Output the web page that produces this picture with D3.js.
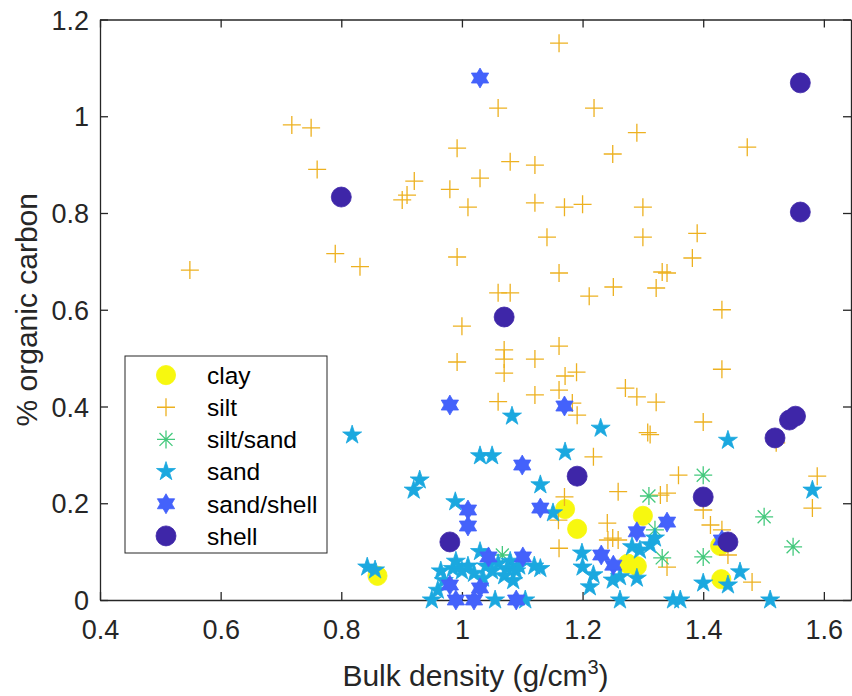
<!DOCTYPE html>
<html>
<head>
<meta charset="utf-8">
<script src="https://cdn.jsdelivr.net/npm/d3@7"></script>
<style>
  body { margin: 0; background: #fff; }
  svg { display: block; font-family: "Liberation Sans", Arial, sans-serif; }
</style>
</head>
<body>
<svg id="chart" width="852" height="696"></svg>
<script>
// values, [bulk density, % organic carbon]
var clay = [[0.86,0.05],[1.171,0.188],[1.191,0.147],[1.30,0.174],[1.275,0.075],[1.29,0.07],
  [1.43,0.043],[1.428,0.112]];

var silt = [[0.549,0.682],[0.718,0.982],[0.75,0.976],[0.76,0.89],[0.79,0.716],[0.831,0.689],
  [0.901,0.827],[0.909,0.837],[0.921,0.866],[0.98,0.849],[0.992,0.934],[0.992,0.709],[1.0,0.566],
  [0.992,0.492],[1.01,0.812],[1.03,0.872],[1.06,1.017],[1.06,0.635],[1.08,0.635],[1.06,0.41],
  [1.07,0.517],[1.07,0.498],[1.07,0.469],[1.08,0.906],[1.121,0.899],[1.121,0.821],[1.121,0.498],
  [1.121,0.424],[1.141,0.75],[1.161,1.151],[1.17,0.812],[1.20,0.818],[1.161,0.676],[1.161,0.525],
  [1.171,0.463],[1.19,0.471],[1.161,0.434],[1.183,0.407],[1.191,0.382],[1.211,0.628],[1.219,1.017],
  [1.25,0.922],[1.251,0.647],[1.271,0.438],[1.29,0.966],[1.29,0.42],[1.30,0.812],[1.30,0.75],
  [1.322,0.645],[1.332,0.678],[1.34,0.676],[1.322,0.409],[1.308,0.346],[1.312,0.342],[1.382,0.707],
  [1.39,0.758],[1.40,0.368],[1.431,0.6],[1.431,0.477],[1.473,0.936],[1.521,0.325],
  [1.218,0.296],[1.17,0.213],[1.16,0.165],[1.161,0.107],[1.359,0.258],[1.40,0.186],[1.34,0.221],
  [1.329,0.217],[1.259,0.224],[1.241,0.159],[1.25,0.128],[1.242,0.124],[1.259,0.124],[1.34,0.068],
  [1.412,0.155],[1.431,0.145],[1.441,0.093],[1.481,0.037],[1.589,0.256],[1.581,0.19]];

var siltSand = [[1.40,0.258],[1.31,0.215],[1.501,0.172],[1.549,0.11],[1.40,0.089],[1.332,0.087],
  [1.32,0.145],[1.067,0.093]];

var sand = [[0.818,0.341],[0.843,0.068],[0.856,0.062],[0.92,0.227],[0.93,0.248],[0.989,0.203],
  [1.03,0.298],[1.05,0.298],[1.083,0.38],[1.13,0.238],[1.151,0.18],[1.171,0.306],[1.23,0.355],
  [1.441,0.33],[1.581,0.227],
  [0.95,0.0],[0.96,0.02],[0.965,0.06],[0.97,0.04],[0.985,0.065],[0.99,0.08],[1.0,0.06],[1.01,0.07],
  [1.02,0.055],[1.03,0.1],[1.035,0.045],[1.04,0.07],[1.05,0.06],[1.055,0.0],[1.06,0.075],[1.07,0.05],
  [1.075,0.065],[1.08,0.08],[1.085,0.04],[1.09,0.06],[1.095,0.07],[1.105,0.0],[1.12,0.07],[1.13,0.065],
  [1.199,0.097],[1.2,0.068],[1.212,0.027],[1.218,0.052],[1.25,0.041],[1.262,0.048],[1.29,0.045],
  [1.282,0.11],[1.295,0.103],[1.312,0.114],[1.32,0.128],[1.262,0.0],[1.35,0.0],[1.362,0.0],
  [1.40,0.035],[1.441,0.031],[1.461,0.058],[1.511,0.0]];

var sandShell = [[1.03,1.079],[0.98,0.403],[1.17,0.401],[1.01,0.186],[1.01,0.153],[1.10,0.279],
  [1.13,0.19],[1.044,0.089],[1.101,0.089],[0.98,0.031],[1.03,0.025],[0.99,0.0],[1.02,0.0],[1.09,0.0],
  [1.231,0.093],[1.251,0.072],[1.29,0.141],[1.34,0.161],[1.431,0.124]];

var shell = [[0.80,0.833],[1.07,0.585],[0.98,0.12],[1.191,0.256],[1.40,0.213],[1.441,0.12],
  [1.561,1.069],[1.561,0.802],[1.519,0.335],[1.543,0.372],[1.553,0.38]];

var categories = ['clay', 'silt', 'silt/sand', 'sand', 'sand/shell', 'shell'];
var xTicks = [0.4, 0.6, 0.8, 1, 1.2, 1.4, 1.6];
var yTicks = [0, 0.2, 0.4, 0.6, 0.8, 1, 1.2];

// custom marker shapes (matlab style)
var symPlus = {
  draw: function(ctx, size) {
    var r = Math.sqrt(size) / 2;
    ctx.moveTo(-r, 0); ctx.lineTo(r, 0);
    ctx.moveTo(0, -r); ctx.lineTo(0, r);
  }
};
var symAsterisk = {
  draw: function(ctx, size) {
    var r = Math.sqrt(size) / 2, d = r * 0.72;
    ctx.moveTo(-r, 0); ctx.lineTo(r, 0);
    ctx.moveTo(0, -r); ctx.lineTo(0, r);
    ctx.moveTo(-d, -d); ctx.lineTo(d, d);
    ctx.moveTo(-d, d); ctx.lineTo(d, -d);
  }
};
var symHexagram = {
  draw: function(ctx, size) {
    var R = Math.sqrt(size) / 2;
    [-90, 90].forEach(function(a0) {
      for (var i = 0; i < 3; i++) {
        var a = (a0 + i * 120) * Math.PI / 180;
        if (i === 0) ctx.moveTo(R * Math.cos(a), R * Math.sin(a));
        else ctx.lineTo(R * Math.cos(a), R * Math.sin(a));
      }
      ctx.closePath();
    });
  }
};

var series = [
  { name: 'clay', data: clay, type: d3.symbolCircle, size: 290, color: '#f7f80f', filled: true },
  { name: 'silt', data: silt, type: symPlus, size: 324, color: '#edb120', filled: false },
  { name: 'silt/sand', data: siltSand, type: symAsterisk, size: 324, color: '#44c97d', filled: false },
  { name: 'sand', data: sand, type: d3.symbolStar, size: 112, color: '#1ba8df', filled: true },
  { name: 'sand/shell', data: sandShell, type: symHexagram, size: 400, color: '#4462fb', filled: true },
  { name: 'shell', data: shell, type: d3.symbolCircle, size: 314, color: '#3e26a8', filled: true }
];

drawChart();

function drawChart() {
  var svg = d3.select('#chart');
  var left = 100, right = 851, plotTop = 19.5, bottom = 600;
  var ink = '#262626';

  var x = d3.scaleLinear().domain([0.4, 1.645]).range([left, right]);
  var y = d3.scaleLinear().domain([0, 1.2]).range([bottom, plotTop]);

  // axes with inward ticks on all four sides
  var fmt = function(d) { return d3.format('~g')(d); };
  var gx = svg.append('g').attr('transform', 'translate(0,' + bottom + ')')
    .call(d3.axisBottom(x).tickValues(xTicks).tickSizeInner(-8).tickSizeOuter(0).tickPadding(20).tickFormat(fmt));
  var gxTop = svg.append('g').attr('transform', 'translate(0,' + plotTop + ')')
    .call(d3.axisTop(x).tickValues(xTicks).tickSizeInner(-8).tickSizeOuter(0).tickFormat(''));
  var gy = svg.append('g').attr('transform', 'translate(' + left + ',0)')
    .call(d3.axisLeft(y).tickValues(yTicks).tickSizeInner(-8).tickSizeOuter(0).tickPadding(11).tickFormat(fmt));
  var gyRight = svg.append('g').attr('transform', 'translate(' + right + ',0)')
    .call(d3.axisRight(y).tickValues(yTicks).tickSizeInner(-8).tickSizeOuter(0).tickFormat(''));

  [gx, gxTop, gy, gyRight].forEach(function(g) {
    g.select('.domain').attr('stroke', ink).attr('stroke-width', 1.3);
    g.selectAll('.tick line').attr('stroke', ink).attr('stroke-width', 1.3);
    g.selectAll('.tick text').attr('fill', ink).style('font-size', '27px')
      .style('font-family', '"Liberation Sans", Arial, sans-serif');
  });
  gx.selectAll('.tick text').attr('dy', '0.71em');
  gy.selectAll('.tick text').attr('dy', '0.36em');

  // markers
  var symbol = d3.symbol();
  series.forEach(function(s) {
    svg.append('g').selectAll('path').data(s.data).enter().append('path')
      .attr('transform', function(d) { return 'translate(' + x(d[0]) + ',' + y(d[1]) + ')'; })
      .attr('d', symbol.type(s.type).size(s.size)())
      .attr('fill', s.filled ? s.color : 'none')
      .attr('stroke', s.color)
      .attr('stroke-width', s.filled ? 0.8 : 1.3);
  });

  // axis labels
  var xl = svg.append('text')
    .attr('x', (left + right) / 2).attr('y', 686)
    .attr('text-anchor', 'middle').attr('fill', ink).style('font-size', '30px');
  xl.append('tspan').text('Bulk density (g/cm');
  xl.append('tspan').attr('dy', -12).style('font-size', '20px').text('3');
  xl.append('tspan').attr('dy', 12).text(')');

  svg.append('text')
    .attr('transform', 'translate(37,' + (plotTop + bottom) / 2 + ') rotate(-90)')
    .attr('text-anchor', 'middle').attr('fill', ink).style('font-size', '30px')
    .text('% organic carbon');

  // legend
  var leg = svg.append('g');
  leg.append('rect').attr('x', 125).attr('y', 356).attr('width', 202).attr('height', 197)
    .attr('fill', '#fff').attr('stroke', ink).attr('stroke-width', 1);
  var row = d3.scaleBand().domain(categories).range([359, 552]);
  series.forEach(function(s) {
    var cy = row(s.name) + row.bandwidth() / 2;
    leg.append('path')
      .attr('transform', 'translate(166,' + cy + ')')
      .attr('d', symbol.type(s.type).size(s.size)())
      .attr('fill', s.filled ? s.color : 'none')
      .attr('stroke', s.color)
      .attr('stroke-width', s.filled ? 0.8 : 1.3);
    leg.append('text').attr('x', 207).attr('y', cy).attr('dy', '0.36em')
      .attr('fill', '#000').style('font-size', '24.5px').text(s.name);
  });
}
</script>
</body>
</html>
